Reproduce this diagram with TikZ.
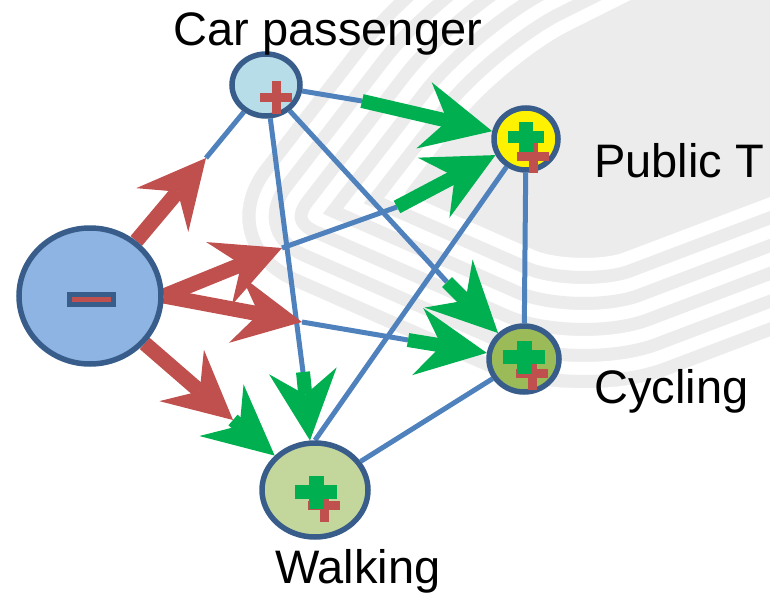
\documentclass[tikz,border=0pt]{standalone}
\usepackage{fontspec}
\setmainfont{Liberation Sans}
\usetikzlibrary{arrows.meta,shapes.geometric,backgrounds}

\definecolor{nodeborder}{RGB}{56,93,138}
\definecolor{minusfill}{RGB}{142,180,227}
\definecolor{carfill}{RGB}{183,221,232}
\definecolor{cycfill}{RGB}{155,187,89}
\definecolor{walkfill}{RGB}{195,214,155}
\definecolor{arrred}{RGB}{192,80,77}
\definecolor{arrgreen}{RGB}{0,176,80}
\definecolor{lineblue}{RGB}{79,129,189}
\definecolor{wmgray}{RGB}{236,236,236}

\begin{document}
\begin{tikzpicture}[x=1pt, y=-1pt,
  mode/.style={ellipse, draw=nodeborder, line width=5.5pt, inner sep=0pt},
  blueline/.style={draw=lineblue, line width=5pt},
  redarrow/.style={draw=arrred, line width=15pt,
    -{Stealth[length=68pt, width=68pt, inset=24pt, line width=0pt]}},
  greenarrow/.style={draw=arrgreen, line width=14pt,
    -{Stealth[length=70pt, width=68pt, inset=24pt, line width=0pt]}},
  lbl/.style={inner sep=0pt, font=\fontsize{47}{56}\selectfont},
  wmshape/.style={rounded corners=100pt, insert path={(980,-320) -- (420,-40)
    -- (200,245) -- (575,410) -- (1050,230) -- (1050,-320) -- cycle}},
  gplus/.pic={\fill[arrgreen] (-21,-7) rectangle (21,7);
    \fill[arrgreen] (-7.5,-16.5) rectangle (7.5,16.5);},
  rplus/.pic={\fill[arrred] (-16,-4.5) rectangle (16,4.5);
    \fill[arrred] (-4.5,-16.5) rectangle (4.5,16.5);}]
  \useasboundingbox (0,0) rectangle (770,596);

  % modes
  \node [mode, fill=minusfill, minimum width=142pt, minimum height=136pt] (minus) at (90,296) {};
  \node [mode, fill=carfill, minimum width=68pt, minimum height=62pt] (car) at (266,85) {};
  \node [mode, fill=yellow, minimum width=64pt, minimum height=62pt] (pt) at (526,139) {};
  \node [mode, fill=cycfill, minimum width=70pt, minimum height=66pt] (cyc) at (524,359) {};
  \node [mode, fill=walkfill, minimum width=106pt, minimum height=94pt] (walk) at (315,490) {};

  % signs
  \node [draw=nodeborder, line width=5pt, fill=arrred, minimum width=44pt,
    minimum height=10pt, inner sep=0pt] (minussign) at (91.5,299.5) {};
  \path (car) ++(10,13) pic {rplus};
  \path (pt) ++(7,18) pic {rplus};
  \path (pt) ++(0,-2) pic[scale=.88] {gplus};
  \path (cyc) ++(8,14) pic {rplus};
  \path (cyc) ++(0,-2) pic {gplus};
  \path (walk) ++(9,15) pic {rplus};
  \path (walk) ++(1,2) pic {gplus};

  % labels
  \node [lbl, anchor=base] (carlbl) at (328,46) {Car passenger};
  \node [lbl, anchor=base west] (ptlbl) at (594,178) {Public T};
  \node [lbl, anchor=base west] (cyclbl) at (594,403) {Cycling};
  \node [lbl, anchor=base west] (walklbl) at (275,583) {Walking};

  % bends of the links
  \coordinate (jcp) at (362,101);
  \coordinate (jcc) at (447,282);
  \coordinate (jcw) at (303,372);
  \coordinate (jmc) at (206,158);
  \coordinate (jmp1) at (282,248);
  \coordinate (jmp2) at (397,207);
  \coordinate (jmy1) at (302,322);
  \coordinate (jmy2) at (408,340);
  \coordinate (jmw) at (233,420);

  \begin{scope}[on background layer]
    % watermark
    \begin{scope}
      \clip (0,0) rectangle (770,596);
      \clip [wmshape];
      \fill [wmgray, wmshape];
      \foreach \k in {10,9,...,1}{
        \ifodd\k\relax \colorlet{wmband}{wmgray}\else \colorlet{wmband}{white}\fi
        \draw [wmband, line width=\k*26pt, line join=round, wmshape];
      }
    \end{scope}

    \draw [blueline] (pt) -- (cyc);
    \draw [blueline] (pt) -- (walk.north);
    \draw [blueline] (cyc) -- (walk);

    \draw [blueline] (car) -- (jcp);
    \draw [greenarrow] (jcp) -- (pt);
    \draw [blueline] (car) -- (jcc);
    \draw [greenarrow] (jcc) -- (cyc);
    \draw [blueline] (car) -- (jcw);
    \draw [greenarrow] (jcw) -- (walk);

    \draw [redarrow] (minus) -- (jmc);
    \draw [blueline] (jmc) -- (car);
    \draw [redarrow] (minus.east) -- (jmp1);
    \draw [blueline] (jmp1) -- (jmp2);
    \draw [greenarrow] (jmp2) -- (pt);
    \draw [redarrow] (minus.east) -- (jmy1);
    \draw [blueline] (jmy1) -- (jmy2);
    \draw [greenarrow] (jmy2) -- (cyc);
    \draw [redarrow] (minus) -- (jmw);
    \draw [greenarrow] (jmw) -- (walk);
  \end{scope}
\end{tikzpicture}
\end{document}
